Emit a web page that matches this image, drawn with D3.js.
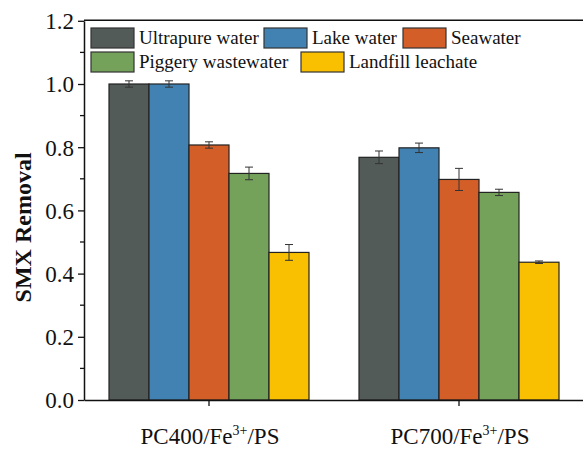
<!DOCTYPE html>
<html>
<head>
<meta charset="utf-8">
<script src="https://cdn.jsdelivr.net/npm/d3@7"></script>
<style>
  body { margin: 0; background: #fff; }
</style>
</head>
<body>
<svg id="chart" width="583" height="449"></svg>
<script>
// data
var groups = ["PC400", "PC700"];
var series = ["Ultrapure water", "Lake water", "Seawater", "Piggery wastewater", "Landfill leachate"];
var colors = ["#535b59", "#4282b3", "#d45e28", "#74a25b", "#f8c000"];
var valuesPC400 = [1.00, 1.00, 0.807, 0.717, 0.467];
var errorsPC400 = [0.010, 0.010, 0.010, 0.020, 0.025];
var valuesPC700 = [0.768, 0.798, 0.698, 0.657, 0.436];
var errorsPC700 = [0.020, 0.015, 0.035, 0.010, 0.004];
var yTicks = [0, 0.2, 0.4, 0.6, 0.8, 1.0, 1.2];

var serif = '"Liberation Serif", "Times New Roman", serif';

var svg = d3.select("#chart");

var plotLeft = 84, plotRight = 584, plotTop = 20.8, plotBottom = 400;

var x = d3.scaleBand().domain(groups).range([plotLeft, plotRight]);
var xs = d3.scaleBand().domain(series).range([0, 200]);
var y = d3.scaleLinear().domain([0, 1.2]).range([plotBottom, plotTop]);

var rows = [];
groups.forEach(function(g, gi) {
  var vals = gi == 0 ? valuesPC400 : valuesPC700;
  var errs = gi == 0 ? errorsPC400 : errorsPC700;
  series.forEach(function(s, si) {
    rows.push({group: g, name: s, value: vals[si], err: errs[si], color: colors[si]});
  });
});

function barX(d) {
  return x(d.group) + x.bandwidth() / 2 - 100 + xs(d.name);
}

// bars
svg.append("g").selectAll("rect")
  .data(rows)
  .enter()
    .append("rect")
    .attr("x", barX)
    .attr("y", function(d) { return y(d.value); })
    .attr("width", xs.bandwidth())
    .attr("height", function(d) { return y(0) - y(d.value); })
    .attr("fill", function(d) { return d.color; })
    .attr("stroke", "#222")
    .attr("stroke-width", 1.2);

// error bars
var eb = svg.append("g").attr("stroke", "#333").attr("stroke-width", 1);
rows.forEach(function(d) {
  var cx = barX(d) + xs.bandwidth() / 2;
  eb.append("line").attr("x1", cx).attr("x2", cx)
    .attr("y1", y(d.value + d.err)).attr("y2", y(d.value - d.err));
  [d.value + d.err, d.value - d.err].forEach(function(v) {
    eb.append("line").attr("x1", cx - 4).attr("x2", cx + 4)
      .attr("y1", y(v)).attr("y2", y(v));
  });
});

// y axis
var yAxis = svg.append("g")
  .attr("transform", "translate(" + plotLeft + ",0)")
  .call(d3.axisLeft(y).tickValues(yTicks).tickSize(6).tickSizeOuter(0).tickPadding(4)
    .tickFormat(d3.format(".1f")));
yAxis.attr("font-family", null);
yAxis.selectAll("text")
  .style("font-family", serif)
  .style("font-size", "23px")
  .attr("fill", "#111")
  .attr("dy", "0.34em");

// minor ticks
svg.append("g").selectAll("line")
  .data([0.1, 0.3, 0.5, 0.7, 0.9, 1.1])
  .enter()
    .append("line")
    .attr("x1", plotLeft - 4).attr("x2", plotLeft)
    .attr("y1", function(d) { return y(d); })
    .attr("y2", function(d) { return y(d); })
    .attr("stroke", "#111").attr("stroke-width", 1.3);

// x axis
var xAxis = svg.append("g")
  .attr("transform", "translate(0," + plotBottom + ")")
  .call(d3.axisBottom(x).tickSize(6).tickSizeOuter(0).tickFormat(""));

[yAxis, xAxis].forEach(function(a) {
  a.select(".domain").attr("stroke", "#111").attr("stroke-width", 1.5);
  a.selectAll(".tick line").attr("stroke", "#111").attr("stroke-width", 1.3);
});

// top frame
svg.append("line")
  .attr("x1", plotLeft).attr("x2", plotRight)
  .attr("y1", plotTop - 0.5).attr("y2", plotTop - 0.5)
  .attr("stroke", "#111").attr("stroke-width", 1.5);

// group labels with superscript
groups.forEach(function(g) {
  var t = svg.append("text")
    .attr("x", x(g) + x.bandwidth() / 2 + 1)
    .attr("y", 444)
    .attr("text-anchor", "middle")
    .attr("fill", "#111")
    .style("font-family", serif)
    .style("font-size", "23px");
  t.append("tspan").text(g + "/Fe");
  t.append("tspan").attr("dy", -9).style("font-size", "14px").text("3+");
  t.append("tspan").attr("dy", 9).text("/PS");
});

// y label
svg.append("text")
  .attr("transform", "translate(31," + ((plotTop + plotBottom) / 2 + 17) + ") rotate(-90)")
  .attr("text-anchor", "middle")
  .attr("fill", "#111")
  .style("font-family", serif)
  .style("font-size", "24px")
  .style("font-weight", "bold")
  .text("SMX Removal");

// legend
var legendPos = [[91, 28], [264, 28], [403, 28], [91, 52], [301, 52]];
var legend = svg.append("g");
series.forEach(function(s, i) {
  var p = legendPos[i];
  legend.append("rect")
    .attr("x", p[0]).attr("y", p[1])
    .attr("width", 43).attr("height", 20)
    .attr("fill", colors[i])
    .attr("stroke", "#333").attr("stroke-width", 1.2);
  legend.append("text")
    .attr("x", p[0] + 48).attr("y", p[1] + 16)
    .attr("fill", "#111")
    .style("font-family", serif)
    .style("font-size", "19px")
    .text(s);
});
</script>
</body>
</html>
